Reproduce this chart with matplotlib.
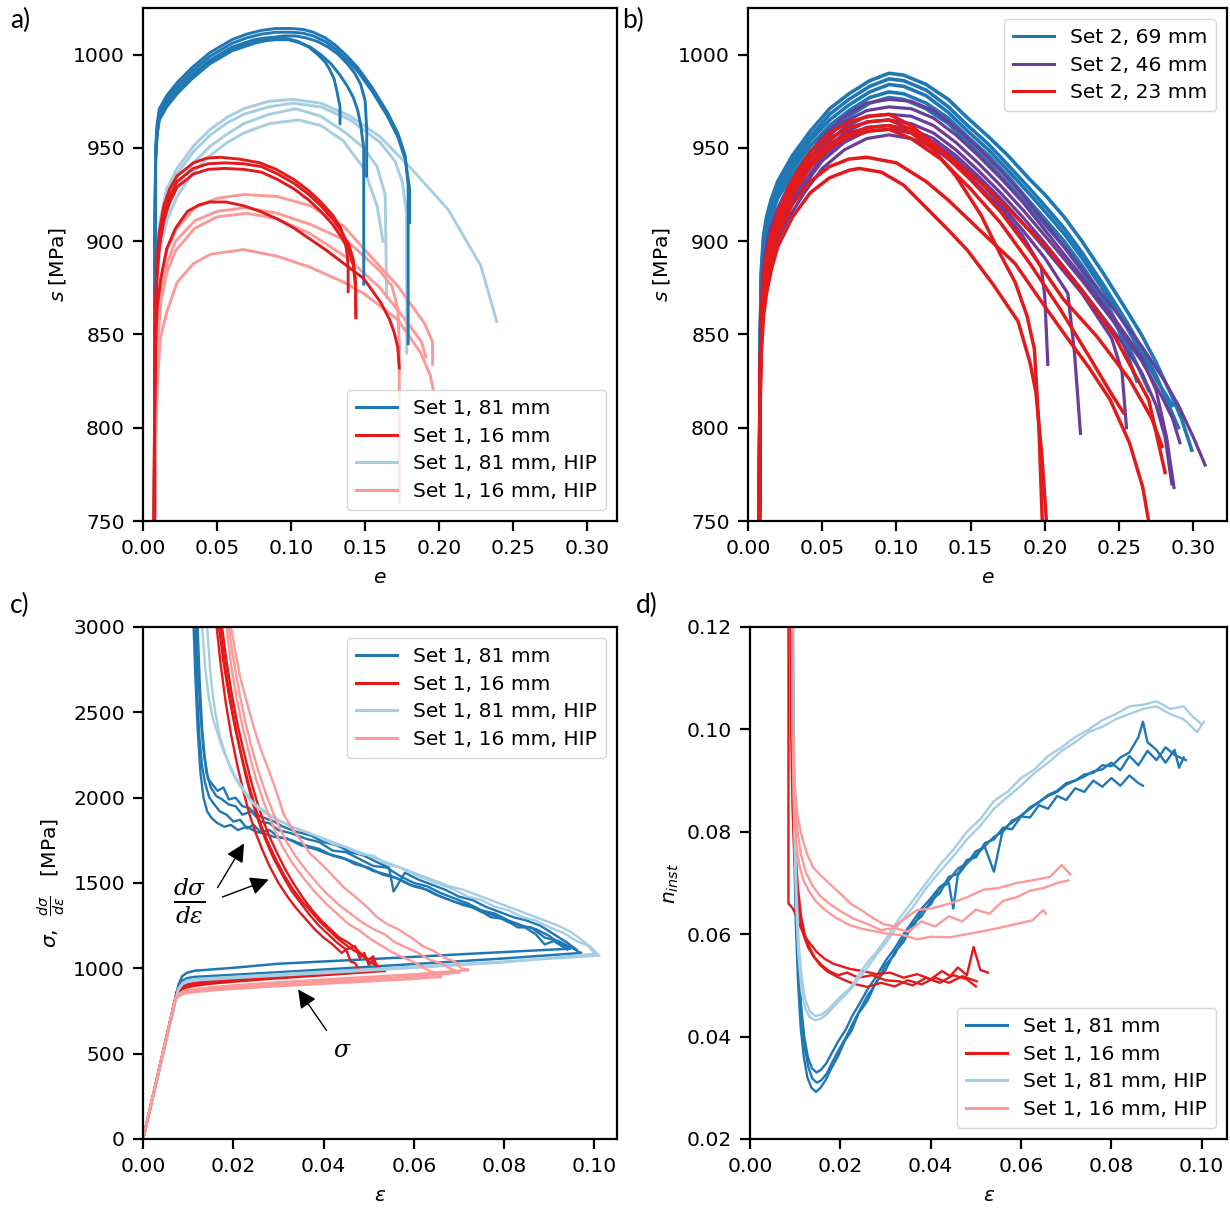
import matplotlib
matplotlib.use('Agg')
from matplotlib import pyplot as plt
from matplotlib.lines import Line2D

plt.rcParams['font.family'] = ['DejaVu Sans']
plt.rcParams['axes.linewidth'] = 1.6
plt.rcParams['xtick.major.width'] = 1.6
plt.rcParams['ytick.major.width'] = 1.6
plt.rcParams['xtick.major.size'] = 7.5
plt.rcParams['ytick.major.size'] = 7.5
plt.rcParams['xtick.major.pad'] = 5.5
plt.rcParams['ytick.major.pad'] = 5.5

DARK_BLUE = '#1f78b4'
RED = '#e31a1c'
LIGHT_BLUE = '#a6cee3'
PINK = '#fb9a99'
PURPLE = '#6a3d9a'

# ---------------- panel a: s vs e, set 1 ----------------
a_blue_e = [
    [0.0075, 0.0080, 0.0085, 0.0095, 0.011, 0.016, 0.023, 0.033, 0.045, 0.06, 0.07, 0.08, 0.09, 0.10, 0.108, 0.115, 0.123, 0.13, 0.138, 0.145, 0.155, 0.165, 0.172, 0.177, 0.179, 0.179],
    [0.0075, 0.0080, 0.0085, 0.0095, 0.011, 0.016, 0.023, 0.033, 0.045, 0.06, 0.07, 0.08, 0.09, 0.10, 0.108, 0.115, 0.123, 0.13, 0.138, 0.145, 0.155, 0.165, 0.172, 0.177, 0.180, 0.180],
    [0.0075, 0.0080, 0.0085, 0.0095, 0.011, 0.016, 0.023, 0.033, 0.045, 0.06, 0.075, 0.085, 0.095, 0.103, 0.11, 0.118, 0.125, 0.132, 0.138, 0.143, 0.147, 0.150, 0.151, 0.151],
    [0.0075, 0.0080, 0.0085, 0.0095, 0.011, 0.016, 0.023, 0.033, 0.045, 0.06, 0.075, 0.083, 0.09, 0.098, 0.105, 0.113, 0.12, 0.127, 0.133, 0.138, 0.142, 0.145, 0.147, 0.149, 0.149],
    [0.0075, 0.0080, 0.0085, 0.0095, 0.011, 0.016, 0.023, 0.033, 0.045, 0.06, 0.075, 0.083, 0.09, 0.098, 0.105, 0.112, 0.118, 0.123, 0.126, 0.129, 0.131, 0.133, 0.133],
]
a_blue_s = [
    [700, 900, 950, 963, 971, 978, 985, 993, 1001, 1008, 1011, 1013, 1014, 1014, 1013.5, 1012, 1009, 1005, 999, 993, 982, 969, 958, 946, 930, 845],
    [700, 900, 948, 961, 969, 976, 983, 991, 999, 1006, 1009, 1011, 1012, 1012, 1011.5, 1010, 1007, 1003, 997, 991, 980, 967, 956, 944, 928, 910],
    [700, 895, 944, 958, 966, 973, 980, 988, 996, 1003, 1007, 1009, 1010, 1010, 1009, 1007, 1004, 1000, 995, 990, 984, 975, 960, 935],
    [700, 895, 943, 957, 965, 972, 979, 987, 995, 1002, 1006, 1007.5, 1008, 1008, 1006.5, 1004, 1000, 995, 989, 983, 977, 970, 962, 950, 877],
    [700, 895, 945, 959, 967, 974, 981, 989, 997, 1004, 1008, 1009, 1009, 1008.5, 1007, 1004, 1000, 996, 992, 987, 980, 972, 963],
]
a_red_e = [
    [0.0072, 0.0078, 0.0085, 0.0095, 0.011, 0.014, 0.018, 0.023, 0.034, 0.043, 0.052, 0.065, 0.079, 0.09, 0.102, 0.112, 0.12, 0.128, 0.1335, 0.1365, 0.138, 0.1385, 0.1385],
    [0.0072, 0.0078, 0.0085, 0.0095, 0.011, 0.014, 0.018, 0.023, 0.034, 0.044, 0.055, 0.068, 0.08, 0.091, 0.102, 0.112, 0.12, 0.128, 0.134, 0.139, 0.142, 0.1435, 0.1437],
    [0.0072, 0.0078, 0.0085, 0.0095, 0.011, 0.014, 0.018, 0.023, 0.034, 0.044, 0.055, 0.068, 0.08, 0.091, 0.102, 0.112, 0.12, 0.128, 0.134, 0.139, 0.142, 0.1435, 0.1437],
    [0.0072, 0.0078, 0.0085, 0.0095, 0.012, 0.016, 0.022, 0.03, 0.038, 0.045, 0.056, 0.068, 0.079, 0.0905, 0.102, 0.113, 0.124, 0.1356, 0.149, 0.1606, 0.1665, 0.1696, 0.172, 0.173],
]
a_red_s = [
    [700, 820, 868, 890, 905, 919, 928, 935, 942, 944.5, 945, 944, 942, 938.5, 933, 927, 921, 914, 907, 900, 892, 885, 873],
    [700, 815, 862, 885, 900, 914, 924, 932, 939, 941.5, 942, 941.5, 940, 936, 931, 925, 919, 912, 905, 898, 890, 878, 859],
    [700, 812, 858, 881, 897, 911, 921, 929, 936, 938.5, 939, 938.5, 937, 933, 928, 922, 916, 909, 902, 895, 887, 875, 860],
    [700, 800, 845, 864, 880, 896, 907, 916, 919.5, 921, 921, 919, 916, 912, 907, 901, 895, 888, 880, 867, 858, 851, 843, 832],
]
a_lblue_e = [
    [0.0075, 0.0080, 0.0090, 0.0117, 0.016, 0.023, 0.034, 0.0455, 0.057, 0.068, 0.085, 0.101, 0.12, 0.14, 0.16, 0.181, 0.206, 0.228, 0.2388],
    [0.0075, 0.0080, 0.0090, 0.0117, 0.016, 0.023, 0.034, 0.0455, 0.057, 0.068, 0.085, 0.101, 0.12, 0.14, 0.16, 0.17, 0.175, 0.178, 0.178],
    [0.0075, 0.0080, 0.0090, 0.0117, 0.016, 0.023, 0.034, 0.0455, 0.057, 0.068, 0.085, 0.103, 0.12, 0.137, 0.149, 0.158, 0.1635, 0.1645],
    [0.0075, 0.0080, 0.0090, 0.0117, 0.016, 0.023, 0.034, 0.0455, 0.057, 0.068, 0.085, 0.105, 0.12, 0.135, 0.149, 0.158, 0.162],
]
a_lblue_s = [
    [700, 855, 895, 912, 928, 939, 951, 960, 966.5, 971, 975, 976, 974, 967, 956, 939, 917, 887, 857],
    [700, 850, 890, 908, 924, 936, 948, 957, 963.5, 968, 972, 974, 972, 965, 953, 943, 932, 915, 840],
    [700, 845, 884, 902, 917, 929, 942, 951, 957.5, 963, 968, 971, 967, 958, 950, 940, 925, 870],
    [700, 840, 878, 896, 911, 924, 937, 946, 953, 958, 963, 965, 962, 954, 939, 919, 900],
]
a_pink_e = [
    [0.0075, 0.0085, 0.0098, 0.012, 0.016, 0.022, 0.035, 0.05, 0.068, 0.0905, 0.113, 0.1356, 0.149, 0.172, 0.19, 0.1955, 0.1955],
    [0.0075, 0.0085, 0.0098, 0.012, 0.016, 0.022, 0.035, 0.05, 0.07, 0.0905, 0.113, 0.138, 0.16, 0.168, 0.172, 0.173, 0.173],
    [0.0075, 0.0085, 0.0098, 0.012, 0.016, 0.022, 0.035, 0.05, 0.07, 0.0905, 0.113, 0.138, 0.16, 0.178, 0.188, 0.191],
    [0.0075, 0.0085, 0.0098, 0.0117, 0.016, 0.023, 0.034, 0.0455, 0.068, 0.0905, 0.113, 0.1356, 0.149, 0.172, 0.1876, 0.194, 0.196],
]
a_pink_s = [
    [700, 820, 858, 880, 895, 906, 918, 923, 925, 924, 919, 908, 896, 876, 856, 846, 834],
    [700, 810, 850, 872, 888, 900, 911, 916, 918, 915, 909, 900, 884, 876, 864, 845, 760],
    [700, 805, 845, 867, 883, 895, 907, 913, 915, 912, 904, 891, 875, 857, 846, 838],
    [700, 790, 825, 848, 862, 878, 888, 893, 895.5, 892, 886, 878, 872, 858, 840, 828, 820],
]

# ---------------- panel b: s vs e, set 2 ----------------
b_blue_e = [
    [0.0075, 0.0082, 0.009, 0.0105, 0.0125, 0.0155, 0.02, 0.03, 0.042, 0.055, 0.068, 0.082, 0.095, 0.105, 0.12, 0.135, 0.148, 0.162, 0.175, 0.19, 0.2, 0.213, 0.225, 0.24, 0.255, 0.265, 0.275, 0.285, 0.292, 0.299],
    [0.0075, 0.0082, 0.009, 0.0105, 0.0125, 0.0155, 0.02, 0.03, 0.042, 0.055, 0.068, 0.082, 0.095, 0.105, 0.12, 0.135, 0.148, 0.162, 0.175, 0.19, 0.2, 0.213, 0.225, 0.24, 0.255, 0.265, 0.275, 0.283, 0.29],
    [0.0075, 0.0082, 0.009, 0.0105, 0.0125, 0.0155, 0.02, 0.03, 0.042, 0.055, 0.068, 0.082, 0.095, 0.105, 0.12, 0.135, 0.148, 0.162, 0.175, 0.19, 0.2, 0.213, 0.225, 0.24, 0.255, 0.265, 0.275, 0.286],
    [0.0075, 0.0082, 0.009, 0.0105, 0.0125, 0.0155, 0.02, 0.03, 0.042, 0.055, 0.068, 0.082, 0.095, 0.105, 0.12, 0.135, 0.148, 0.162, 0.175, 0.19, 0.2, 0.213, 0.225, 0.24, 0.252, 0.262, 0.27],
    [0.0075, 0.0082, 0.009, 0.0105, 0.0125, 0.0155, 0.02, 0.03, 0.042, 0.055, 0.068, 0.082, 0.095, 0.105, 0.12, 0.135, 0.148, 0.162, 0.175, 0.19, 0.2, 0.213, 0.225, 0.24, 0.25, 0.262],
]
b_blue_s = [
    [700, 845, 885, 903, 913, 922, 932, 946, 959, 971, 979, 986, 990, 989, 984, 976, 966, 956, 946, 933, 925, 913, 900, 882, 863, 850, 835, 818, 805, 788],
    [700, 842, 882, 900, 910, 919, 929, 943, 956, 968, 976, 983, 987, 986, 981, 972, 962, 952, 941, 928, 919, 907, 894, 876, 857, 843, 828, 813, 800],
    [700, 840, 880, 898, 908, 917, 927, 941, 954, 965, 973, 980, 984, 983, 978, 969, 959, 949, 938, 925, 916, 904, 891, 873, 854, 840, 826, 812],
    [700, 838, 878, 896, 906, 915, 925, 939, 951, 962, 970, 977, 980, 979, 974, 966, 956, 946, 935, 921, 912, 900, 887, 869, 851, 834, 820],
    [700, 836, 876, 894, 904, 913, 923, 936, 948, 959, 967, 974, 977, 976, 971, 963, 953, 942, 931, 918, 909, 897, 884, 866, 852, 825],
]
b_purple_e = [
    [0.0075, 0.0082, 0.0092, 0.011, 0.014, 0.019, 0.027, 0.038, 0.05, 0.065, 0.08, 0.095, 0.11, 0.125, 0.14, 0.155, 0.17, 0.185, 0.2, 0.225, 0.25, 0.265, 0.28, 0.29, 0.3, 0.308],
    [0.0075, 0.0082, 0.0092, 0.011, 0.014, 0.019, 0.027, 0.038, 0.05, 0.065, 0.08, 0.095, 0.11, 0.125, 0.14, 0.155, 0.17, 0.185, 0.2, 0.225, 0.25, 0.265, 0.275, 0.282, 0.287],
    [0.0075, 0.0082, 0.0092, 0.011, 0.014, 0.019, 0.027, 0.038, 0.05, 0.065, 0.08, 0.095, 0.11, 0.125, 0.14, 0.155, 0.17, 0.185, 0.2, 0.225, 0.25, 0.265, 0.278, 0.286, 0.291],
    [0.0075, 0.0082, 0.0092, 0.011, 0.014, 0.019, 0.027, 0.038, 0.05, 0.065, 0.08, 0.095, 0.11, 0.125, 0.14, 0.155, 0.17, 0.185, 0.2, 0.225, 0.25, 0.265, 0.275, 0.281, 0.2855],
    [0.0075, 0.0082, 0.0092, 0.011, 0.014, 0.019, 0.027, 0.038, 0.05, 0.065, 0.08, 0.095, 0.11, 0.125, 0.14, 0.155, 0.17, 0.185, 0.1976, 0.2, 0.202],
    [0.0075, 0.0082, 0.0092, 0.011, 0.014, 0.019, 0.027, 0.038, 0.05, 0.065, 0.08, 0.095, 0.11, 0.125, 0.14, 0.155, 0.17, 0.185, 0.2, 0.2155, 0.22, 0.224],
    [0.0075, 0.0082, 0.0092, 0.011, 0.014, 0.019, 0.027, 0.038, 0.05, 0.065, 0.08, 0.095, 0.11, 0.125, 0.14, 0.155, 0.17, 0.185, 0.2, 0.225, 0.245, 0.252, 0.255],
]
b_purple_s = [
    [700, 835, 872, 891, 904, 916, 929, 943, 956, 967, 974, 976, 975, 970, 961, 950, 938, 925, 910, 885, 860, 844, 826, 812, 795, 780],
    [700, 832, 869, 888, 901, 913, 926, 940, 953, 964, 970, 972, 971, 966, 957, 946, 934, 921, 906, 881, 855, 838, 820, 795, 768],
    [700, 830, 866, 885, 898, 910, 923, 937, 950, 961, 967, 968, 967, 962, 953, 942, 930, 917, 903, 879, 853, 836, 818, 805, 792],
    [700, 828, 864, 883, 896, 908, 921, 935, 948, 958, 964, 965, 963, 958, 949, 938, 926, 913, 899, 874, 848, 830, 812, 795, 770],
    [700, 822, 856, 874, 887, 899, 912, 926, 939, 949, 955, 957, 955, 950, 941, 930, 918, 903, 886, 870, 834],
    [700, 825, 860, 878, 891, 903, 916, 930, 943, 953, 959, 960, 958, 953, 944, 933, 920, 906, 891, 872, 840, 797],
    [700, 826, 862, 880, 893, 905, 918, 932, 945, 955, 961, 962, 960, 955, 946, 935, 923, 910, 896, 872, 848, 830, 800],
]
b_red_e = [
    [0.0072, 0.008, 0.009, 0.0105, 0.0125, 0.0155, 0.02, 0.03, 0.042, 0.055, 0.068, 0.082, 0.095, 0.11, 0.1345, 0.157, 0.1795, 0.202, 0.2245, 0.247, 0.27, 0.281],
    [0.0072, 0.008, 0.009, 0.0105, 0.0125, 0.0155, 0.02, 0.03, 0.042, 0.055, 0.068, 0.082, 0.095, 0.11, 0.13, 0.15, 0.17, 0.19, 0.2124, 0.235, 0.257, 0.272, 0.279],
    [0.0072, 0.008, 0.009, 0.0105, 0.0125, 0.0155, 0.02, 0.03, 0.042, 0.055, 0.068, 0.08, 0.1, 0.12, 0.135, 0.16, 0.18, 0.2, 0.217, 0.23, 0.244, 0.257, 0.266, 0.271],
    [0.0072, 0.008, 0.009, 0.0105, 0.0125, 0.0155, 0.02, 0.03, 0.042, 0.055, 0.068, 0.075, 0.09, 0.105, 0.12, 0.135, 0.148, 0.165, 0.182, 0.19, 0.194, 0.198, 0.2015],
    [0.0072, 0.008, 0.009, 0.0105, 0.0125, 0.0155, 0.02, 0.03, 0.042, 0.055, 0.068, 0.082, 0.095, 0.11, 0.125, 0.14, 0.157, 0.17, 0.18, 0.188, 0.193, 0.196, 0.1985],
    [0.0072, 0.008, 0.009, 0.0105, 0.0125, 0.0155, 0.02, 0.03, 0.042, 0.055, 0.068, 0.082, 0.095, 0.11, 0.13, 0.15, 0.17, 0.19, 0.21, 0.23, 0.245, 0.253],
]
b_red_s = [
    [700, 820, 860, 880, 893, 903, 915, 933, 948, 958, 964, 967, 968, 962, 946, 931, 914, 896, 874, 849, 815, 776],
    [700, 818, 857, 877, 890, 900, 912, 930, 945, 955, 961, 964, 965, 960, 948, 933, 916, 895, 869, 849, 826, 805, 790],
    [700, 810, 845, 865, 878, 890, 903, 920, 932, 940, 944, 945, 942, 932, 922, 903, 888, 865, 846, 832, 815, 792, 768, 745],
    [700, 805, 840, 860, 872, 884, 897, 913, 926, 934, 938, 939, 937, 930, 918, 906, 895, 877, 857, 835, 819, 785, 745],
    [700, 816, 855, 874, 887, 897, 909, 927, 942, 952, 958, 961, 962, 958, 949, 935, 914, 893, 878, 860, 842, 800, 745],
    [700, 815, 853, 872, 885, 895, 907, 925, 940, 950, 956, 959, 960, 955, 944, 928, 910, 888, 864, 838, 818, 808],
]

# ---------------- panel c: sigma and dsigma/deps vs eps ----------------
c_blue_sig_e = [[0, 0.0078, 0.0087, 0.0098, 0.0115, 0.02, 0.03, 0.052, 0.073, 0.0945],
                [0, 0.0078, 0.0087, 0.0098, 0.0115, 0.02, 0.035, 0.06, 0.08, 0.097]]
c_blue_sig = [[0, 900, 955, 975, 986, 1003, 1027, 1056, 1086, 1115],
              [0, 890, 928, 943, 950, 962, 985, 1025, 1058, 1090]]
c_lblue_sig_e = [[0, 0.0078, 0.0088, 0.010, 0.012, 0.02, 0.04, 0.06, 0.08, 0.101],
                 [0, 0.0078, 0.0088, 0.010, 0.012, 0.02, 0.04, 0.06, 0.08, 0.100]]
c_lblue_sig = [[0, 880, 915, 930, 937, 950, 980, 1010, 1040, 1075],
               [0, 875, 908, 922, 930, 943, 972, 1003, 1035, 1085]]
c_red_sig_e = [[0, 0.0075, 0.0085, 0.0095, 0.011, 0.015, 0.02, 0.03, 0.04, 0.053],
               [0, 0.0075, 0.0085, 0.0095, 0.011, 0.015, 0.02, 0.03, 0.04, 0.048],
               [0, 0.0075, 0.0085, 0.0095, 0.011, 0.015, 0.02, 0.03, 0.04, 0.052],
               [0, 0.0075, 0.0085, 0.0095, 0.011, 0.015, 0.02, 0.03, 0.04, 0.0535]]
c_red_sig = [[0, 860, 885, 897, 906, 920, 932, 952, 970, 990],
             [0, 855, 880, 892, 901, 915, 927, 947, 966, 985],
             [0, 865, 892, 904, 913, 928, 940, 959, 978, 1000],
             [0, 850, 875, 887, 896, 910, 922, 942, 960, 985]]
c_pink_sig_e = [[0, 0.0072, 0.0082, 0.0093, 0.011, 0.015, 0.02, 0.03, 0.045, 0.06, 0.072],
                [0, 0.0072, 0.0082, 0.0093, 0.011, 0.015, 0.02, 0.03, 0.045, 0.06, 0.066],
                [0, 0.0072, 0.0082, 0.0093, 0.011, 0.015, 0.02, 0.03, 0.045, 0.06, 0.070]]
c_pink_sig = [[0, 830, 855, 868, 876, 888, 900, 918, 942, 965, 990],
              [0, 820, 842, 853, 860, 870, 880, 896, 917, 938, 950],
              [0, 825, 848, 860, 868, 880, 890, 907, 930, 952, 975]]

c_blue_rate_e = [
    [0.0118, 0.0122, 0.0127, 0.0133, 0.0140, 0.0150, 0.0162, 0.0175, 0.019, 0.0205, 0.022, 0.024, 0.026, 0.028, 0.030, 0.033, 0.036, 0.039, 0.042, 0.045, 0.048, 0.051, 0.054, 0.057, 0.060, 0.063, 0.066, 0.069, 0.072, 0.075, 0.078, 0.081, 0.084, 0.087, 0.090, 0.092, 0.0945],
    [0.0112, 0.0116, 0.0121, 0.0127, 0.0134, 0.0142, 0.0152, 0.0165, 0.018, 0.0195, 0.021, 0.023, 0.025, 0.027, 0.029, 0.032, 0.035, 0.038, 0.041, 0.044, 0.047, 0.050, 0.053, 0.056, 0.059, 0.062, 0.065, 0.068, 0.071, 0.074, 0.077, 0.080, 0.083, 0.086, 0.089, 0.092, 0.095, 0.097],
    [0.0121, 0.0126, 0.0131, 0.0137, 0.0144, 0.0153, 0.0165, 0.0178, 0.019, 0.0205, 0.022, 0.0235, 0.025, 0.027, 0.029, 0.031, 0.034, 0.037, 0.040, 0.043, 0.046, 0.049, 0.052, 0.0545, 0.0555, 0.058, 0.061, 0.064, 0.067, 0.070, 0.073, 0.076, 0.079, 0.082, 0.085, 0.088, 0.091, 0.094, 0.096],
    [0.0116, 0.012, 0.0125, 0.0131, 0.0138, 0.0147, 0.0158, 0.017, 0.0185, 0.020, 0.0215, 0.023, 0.0245, 0.026, 0.028, 0.030, 0.033, 0.036, 0.039, 0.042, 0.045, 0.048, 0.051, 0.054, 0.057, 0.060, 0.063, 0.066, 0.069, 0.072, 0.075, 0.078, 0.081, 0.084, 0.087, 0.089, 0.091, 0.094],
]
c_blue_rate = [
    [3000, 2750, 2500, 2300, 2150, 2060, 2010, 1990, 1960, 1950, 1900, 1920, 1860, 1850, 1810, 1790, 1760, 1740, 1690, 1680, 1640, 1600, 1590, 1540, 1500, 1480, 1440, 1410, 1380, 1340, 1320, 1280, 1250, 1230, 1190, 1150, 1115],
    [3000, 2700, 2400, 2150, 2000, 1920, 1880, 1850, 1830, 1840, 1810, 1830, 1800, 1790, 1770, 1760, 1720, 1700, 1670, 1650, 1610, 1590, 1550, 1530, 1490, 1470, 1430, 1400, 1370, 1350, 1300, 1290, 1240, 1240, 1180, 1160, 1120, 1090],
    [3000, 2650, 2400, 2230, 2110, 2080, 2040, 2060, 1990, 2000, 1950, 1940, 1900, 1880, 1860, 1830, 1800, 1780, 1740, 1720, 1680, 1660, 1620, 1590, 1450, 1560, 1520, 1490, 1460, 1420, 1400, 1360, 1330, 1300, 1280, 1250, 1200, 1150, 1110],
    [3000, 2600, 2350, 2180, 2080, 2000, 1960, 1920, 1900, 1860, 1870, 1820, 1840, 1800, 1810, 1770, 1750, 1720, 1700, 1660, 1640, 1610, 1570, 1550, 1520, 1480, 1460, 1420, 1390, 1370, 1330, 1310, 1270, 1250, 1200, 1140, 1160, 1110],
]
c_lblue_rate_e = [
    [0.0131, 0.0138, 0.0146, 0.0155, 0.0165, 0.0177, 0.019, 0.0205, 0.022, 0.024, 0.026, 0.028, 0.030, 0.033, 0.036, 0.039, 0.042, 0.045, 0.048, 0.051, 0.054, 0.057, 0.060, 0.063, 0.066, 0.069, 0.072, 0.075, 0.078, 0.081, 0.084, 0.087, 0.090, 0.093, 0.096, 0.099, 0.101],
    [0.0142, 0.015, 0.016, 0.017, 0.0183, 0.0197, 0.0212, 0.023, 0.025, 0.027, 0.029, 0.032, 0.035, 0.038, 0.041, 0.044, 0.047, 0.050, 0.053, 0.056, 0.059, 0.062, 0.065, 0.068, 0.071, 0.074, 0.077, 0.080, 0.083, 0.086, 0.089, 0.092, 0.095, 0.098, 0.100],
]
c_lblue_rate = [
    [3000, 2750, 2580, 2460, 2380, 2280, 2200, 2120, 2060, 1980, 1940, 1900, 1870, 1830, 1800, 1770, 1730, 1710, 1670, 1660, 1610, 1590, 1550, 1520, 1490, 1460, 1420, 1400, 1360, 1340, 1300, 1280, 1240, 1210, 1160, 1130, 1075],
    [3000, 2700, 2500, 2360, 2250, 2150, 2080, 2010, 1950, 1910, 1880, 1840, 1810, 1780, 1750, 1720, 1690, 1660, 1630, 1600, 1570, 1540, 1510, 1480, 1460, 1430, 1400, 1370, 1340, 1310, 1280, 1250, 1210, 1150, 1090],
]
c_red_rate_e = [
    [0.0168, 0.0178, 0.019, 0.0203, 0.0217, 0.023, 0.0245, 0.026, 0.0275, 0.029, 0.031, 0.033, 0.035, 0.037, 0.039, 0.041, 0.043, 0.045, 0.047, 0.048, 0.049, 0.050, 0.051, 0.052, 0.053],
    [0.0163, 0.0172, 0.0183, 0.0195, 0.0208, 0.0222, 0.0236, 0.025, 0.0265, 0.028, 0.030, 0.032, 0.034, 0.036, 0.038, 0.040, 0.042, 0.044, 0.045, 0.046, 0.047, 0.048],
    [0.0175, 0.0185, 0.0197, 0.021, 0.0224, 0.0238, 0.0252, 0.0267, 0.0282, 0.0298, 0.0315, 0.0335, 0.0355, 0.0375, 0.0395, 0.0415, 0.0435, 0.0455, 0.047, 0.0485, 0.050, 0.051, 0.052],
    [0.0171, 0.0181, 0.0193, 0.0206, 0.022, 0.0234, 0.0249, 0.0264, 0.028, 0.0296, 0.0314, 0.0333, 0.0353, 0.0373, 0.0393, 0.0413, 0.0433, 0.0453, 0.047, 0.0485, 0.050, 0.0515, 0.0535],
]
c_red_rate = [
    [3000, 2800, 2600, 2420, 2250, 2100, 1950, 1830, 1730, 1640, 1540, 1450, 1380, 1310, 1250, 1200, 1150, 1110, 1130, 1060, 1090, 1020, 1050, 1000, 990],
    [3000, 2780, 2560, 2370, 2200, 2040, 1900, 1790, 1690, 1600, 1500, 1420, 1350, 1290, 1230, 1180, 1140, 1090, 1110, 1040, 1030, 985],
    [3000, 2800, 2600, 2420, 2260, 2110, 1980, 1860, 1760, 1670, 1580, 1490, 1410, 1340, 1280, 1230, 1180, 1150, 1120, 1080, 1050, 1070, 1000],
    [3000, 2790, 2590, 2400, 2230, 2080, 1940, 1820, 1720, 1630, 1540, 1460, 1390, 1330, 1270, 1220, 1170, 1130, 1100, 1080, 1040, 1020, 985],
]
c_pink_rate_e = [
    [0.0195, 0.0205, 0.0215, 0.023, 0.0245, 0.026, 0.028, 0.030, 0.0311, 0.033, 0.035, 0.037, 0.040, 0.0425, 0.0444, 0.047, 0.050, 0.0518, 0.054, 0.0565, 0.0592, 0.062, 0.0645, 0.0665, 0.069, 0.0705, 0.072],
    [0.0185, 0.0195, 0.0207, 0.022, 0.0235, 0.025, 0.0268, 0.0287, 0.0307, 0.033, 0.0355, 0.038, 0.0405, 0.043, 0.0455, 0.048, 0.0505, 0.053, 0.0555, 0.058, 0.0605, 0.063, 0.065, 0.066],
    [0.0190, 0.0201, 0.0213, 0.0226, 0.024, 0.0256, 0.0274, 0.0293, 0.0314, 0.0337, 0.036, 0.0385, 0.041, 0.0435, 0.046, 0.0485, 0.051, 0.0535, 0.056, 0.0585, 0.061, 0.0635, 0.066, 0.068, 0.070],
]
c_pink_rate = [
    [3000, 2850, 2707, 2560, 2414, 2290, 2150, 2000, 1906, 1820, 1750, 1672, 1600, 1530, 1476, 1420, 1350, 1301, 1260, 1230, 1184, 1130, 1100, 1066, 1040, 1000, 993],
    [3000, 2780, 2590, 2420, 2260, 2110, 1970, 1840, 1720, 1620, 1530, 1450, 1380, 1320, 1260, 1220, 1170, 1130, 1090, 1060, 1030, 990, 970, 950],
    [3000, 2800, 2620, 2450, 2300, 2150, 2010, 1880, 1760, 1660, 1580, 1500, 1430, 1370, 1320, 1270, 1230, 1200, 1150, 1120, 1090, 1050, 1030, 1000, 975],
]

# ---------------- panel d: n_inst vs eps ----------------
d_blue_e = [
    [0.0093, 0.0094, 0.0097, 0.0101, 0.0106, 0.0112, 0.0119, 0.0127, 0.0136, 0.0146, 0.0156, 0.0168, 0.018, 0.0195, 0.021, 0.0225, 0.024, 0.026, 0.028, 0.030, 0.032, 0.034, 0.036, 0.038, 0.040, 0.042, 0.044, 0.046, 0.048, 0.050, 0.052, 0.054, 0.056, 0.058, 0.060, 0.062, 0.064, 0.066, 0.068, 0.070, 0.072, 0.074, 0.076, 0.078, 0.080, 0.082, 0.084, 0.086, 0.087],
    [0.0095, 0.0096, 0.0099, 0.0103, 0.0108, 0.0114, 0.0121, 0.0129, 0.0138, 0.0148, 0.0158, 0.017, 0.0182, 0.0197, 0.0212, 0.0227, 0.0242, 0.026, 0.028, 0.030, 0.032, 0.034, 0.036, 0.038, 0.040, 0.042, 0.044, 0.045, 0.046, 0.048, 0.050, 0.052, 0.054, 0.056, 0.058, 0.060, 0.062, 0.064, 0.066, 0.068, 0.070, 0.072, 0.074, 0.076, 0.078, 0.080, 0.082, 0.084, 0.086, 0.087, 0.088, 0.090, 0.092, 0.094, 0.095, 0.096],
    [0.0094, 0.0095, 0.0098, 0.0102, 0.0107, 0.0113, 0.012, 0.0128, 0.0137, 0.0147, 0.0157, 0.0169, 0.0181, 0.0196, 0.0211, 0.0226, 0.0241, 0.026, 0.028, 0.030, 0.032, 0.034, 0.036, 0.038, 0.040, 0.042, 0.044, 0.046, 0.048, 0.050, 0.052, 0.054, 0.056, 0.058, 0.060, 0.062, 0.064, 0.066, 0.068, 0.070, 0.072, 0.074, 0.076, 0.078, 0.080, 0.082, 0.084, 0.086, 0.088, 0.090, 0.092, 0.094, 0.0965],
]
d_blue_n = [
    [0.125, 0.100, 0.080, 0.063, 0.051, 0.042, 0.036, 0.032, 0.0300, 0.0292, 0.0300, 0.0316, 0.0338, 0.0362, 0.0392, 0.0412, 0.0445, 0.0470, 0.0508, 0.0530, 0.0565, 0.0585, 0.0620, 0.0635, 0.0665, 0.0680, 0.0712, 0.0718, 0.0745, 0.0750, 0.0778, 0.0785, 0.0808, 0.0805, 0.0830, 0.0828, 0.0852, 0.0845, 0.0870, 0.0862, 0.0885, 0.0878, 0.0900, 0.0888, 0.0905, 0.0890, 0.0910, 0.0895, 0.0890],
    [0.125, 0.100, 0.081, 0.065, 0.053, 0.044, 0.038, 0.0340, 0.0318, 0.0310, 0.0315, 0.0328, 0.0350, 0.0375, 0.0398, 0.0425, 0.0450, 0.0480, 0.0505, 0.0540, 0.0560, 0.0595, 0.0612, 0.0645, 0.0658, 0.0690, 0.0700, 0.0650, 0.0715, 0.0738, 0.0755, 0.0772, 0.0790, 0.0800, 0.0822, 0.0830, 0.0848, 0.0858, 0.0872, 0.0880, 0.0895, 0.0900, 0.0912, 0.0915, 0.0930, 0.0928, 0.0945, 0.0955, 0.0985, 0.1015, 0.0975, 0.0960, 0.0935, 0.0960, 0.0925, 0.0945],
    [0.125, 0.100, 0.082, 0.066, 0.055, 0.046, 0.040, 0.0360, 0.0338, 0.0330, 0.0335, 0.0348, 0.0368, 0.0392, 0.0412, 0.0440, 0.0462, 0.0492, 0.0518, 0.0548, 0.0572, 0.0600, 0.0625, 0.0650, 0.0670, 0.0692, 0.0705, 0.0728, 0.0738, 0.0762, 0.0770, 0.0722, 0.0805, 0.0818, 0.0832, 0.0845, 0.0858, 0.0870, 0.0878, 0.0892, 0.0900, 0.0908, 0.0918, 0.0922, 0.0935, 0.0920, 0.0948, 0.0930, 0.0958, 0.0940, 0.0965, 0.0950, 0.0940],
]
d_lblue_e = [
    [0.0095, 0.0096, 0.0099, 0.0103, 0.0108, 0.0115, 0.0123, 0.0133, 0.0145, 0.0158, 0.0172, 0.0186, 0.020, 0.0222, 0.024, 0.026, 0.028, 0.030, 0.033, 0.036, 0.039, 0.042, 0.045, 0.048, 0.051, 0.054, 0.057, 0.060, 0.063, 0.066, 0.069, 0.072, 0.075, 0.078, 0.081, 0.084, 0.087, 0.090, 0.093, 0.096, 0.098, 0.100],
    [0.0094, 0.0095, 0.0098, 0.0102, 0.0107, 0.0114, 0.0122, 0.0132, 0.0144, 0.0157, 0.0171, 0.0185, 0.020, 0.022, 0.024, 0.026, 0.028, 0.030, 0.033, 0.036, 0.039, 0.042, 0.045, 0.048, 0.051, 0.054, 0.057, 0.060, 0.063, 0.066, 0.069, 0.072, 0.075, 0.078, 0.081, 0.084, 0.087, 0.090, 0.093, 0.096, 0.099, 0.1005],
]
d_lblue_n = [
    [0.125, 0.100, 0.082, 0.068, 0.058, 0.051, 0.047, 0.0448, 0.0440, 0.0443, 0.0452, 0.0465, 0.0478, 0.0495, 0.0520, 0.0545, 0.0565, 0.0590, 0.0630, 0.0665, 0.0700, 0.0735, 0.0765, 0.0800, 0.0825, 0.0860, 0.0878, 0.0905, 0.0922, 0.0948, 0.0965, 0.0985, 0.1000, 0.1018, 0.1030, 0.1045, 0.1048, 0.1055, 0.1040, 0.1045, 0.1025, 0.1010],
    [0.125, 0.100, 0.080, 0.066, 0.056, 0.049, 0.0455, 0.0438, 0.0432, 0.0435, 0.0445, 0.0458, 0.0472, 0.0490, 0.0512, 0.0535, 0.0560, 0.0582, 0.0620, 0.0652, 0.0690, 0.0722, 0.0752, 0.0785, 0.0812, 0.0845, 0.0868, 0.0890, 0.0915, 0.0935, 0.0958, 0.0975, 0.0995, 0.1005, 0.1020, 0.1030, 0.1040, 0.1045, 0.1030, 0.1020, 0.0995, 0.1015],
]
d_red_e = [
    [0.0085, 0.0085, 0.0095, 0.0100, 0.0105, 0.0111, 0.012, 0.013, 0.0148, 0.0165, 0.0185, 0.020, 0.0222, 0.025, 0.028, 0.031, 0.034, 0.037, 0.040, 0.0425, 0.0443, 0.046, 0.048, 0.0495, 0.051, 0.0527],
    [0.0090, 0.0091, 0.0094, 0.0098, 0.0104, 0.0111, 0.0118, 0.0128, 0.014, 0.0155, 0.017, 0.019, 0.021, 0.023, 0.0259, 0.029, 0.032, 0.035, 0.038, 0.041, 0.044, 0.047, 0.0502],
    [0.0092, 0.0093, 0.0096, 0.0100, 0.0106, 0.0113, 0.0121, 0.0131, 0.0143, 0.0158, 0.0175, 0.0195, 0.0215, 0.024, 0.027, 0.030, 0.033, 0.036, 0.039, 0.042, 0.045, 0.048, 0.050],
]
d_red_n = [
    [0.125, 0.0660, 0.0650, 0.0640, 0.0628, 0.0615, 0.0598, 0.0585, 0.0565, 0.0552, 0.0542, 0.0538, 0.0532, 0.0528, 0.0522, 0.0525, 0.0515, 0.0522, 0.0512, 0.0528, 0.0518, 0.0535, 0.0520, 0.0575, 0.0530, 0.0525],
    [0.125, 0.100, 0.085, 0.075, 0.068, 0.0628, 0.0600, 0.0575, 0.0557, 0.0540, 0.0528, 0.0518, 0.0510, 0.0503, 0.0497, 0.0505, 0.0498, 0.0510, 0.0502, 0.0515, 0.0505, 0.0518, 0.0508],
    [0.125, 0.100, 0.086, 0.077, 0.069, 0.0635, 0.0600, 0.0575, 0.0555, 0.0540, 0.0528, 0.0520, 0.0525, 0.0515, 0.0520, 0.0510, 0.0508, 0.0500, 0.0515, 0.0505, 0.0520, 0.0512, 0.0498],
]
d_pink_e = [
    [0.0094, 0.0095, 0.0098, 0.0104, 0.0112, 0.0126, 0.014, 0.016, 0.0184, 0.0205, 0.0222, 0.025, 0.0275, 0.0295, 0.032, 0.035, 0.037, 0.040, 0.0443, 0.048, 0.0517, 0.055, 0.059, 0.0625, 0.0664, 0.069, 0.0709],
    [0.0093, 0.0094, 0.0097, 0.0102, 0.0109, 0.0118, 0.013, 0.0145, 0.0165, 0.019, 0.022, 0.025, 0.028, 0.031, 0.034, 0.037, 0.040, 0.0443, 0.048, 0.0517, 0.055, 0.059, 0.0625, 0.0649, 0.0655],
    [0.0094, 0.0095, 0.0099, 0.0105, 0.0113, 0.0124, 0.0138, 0.0155, 0.0175, 0.020, 0.023, 0.026, 0.029, 0.032, 0.035, 0.038, 0.041, 0.044, 0.047, 0.050, 0.053, 0.056, 0.059, 0.062, 0.065, 0.068, 0.0705],
]
d_pink_n = [
    [0.125, 0.100, 0.090, 0.084, 0.080, 0.0757, 0.0730, 0.0712, 0.0692, 0.0675, 0.0660, 0.0645, 0.0630, 0.0620, 0.0615, 0.0635, 0.0647, 0.0650, 0.0660, 0.0672, 0.0687, 0.0690, 0.0700, 0.0705, 0.0712, 0.0735, 0.0717],
    [0.125, 0.100, 0.086, 0.078, 0.0735, 0.0705, 0.0685, 0.0665, 0.0648, 0.0632, 0.0618, 0.0610, 0.0605, 0.0600, 0.0598, 0.0590, 0.0595, 0.0594, 0.0600, 0.0606, 0.0612, 0.0620, 0.0627, 0.0647, 0.0640],
    [0.125, 0.100, 0.087, 0.080, 0.0755, 0.0720, 0.0695, 0.0675, 0.0660, 0.0645, 0.0630, 0.0620, 0.0608, 0.0612, 0.0605, 0.0625, 0.0615, 0.0635, 0.0625, 0.0648, 0.0640, 0.0665, 0.0672, 0.0685, 0.0690, 0.0700, 0.0705],
]

SET1_LABELS = ['Set 1, 81 mm', 'Set 1, 16 mm', 'Set 1, 81 mm, HIP', 'Set 1, 16 mm, HIP']
SET1_COLORS = [DARK_BLUE, RED, LIGHT_BLUE, PINK]
SET2_LABELS = ['Set 2, 69 mm', 'Set 2, 46 mm', 'Set 2, 23 mm']
SET2_COLORS = [DARK_BLUE, PURPLE, RED]

TICK_FS = 14.6
LEG_FS = 14.6


def draw_group(ax, xs, ys, color, lw):
    for x, y in zip(xs, ys):
        ax.plot(x, y, color=color, lw=lw, solid_joinstyle='round')


def add_legend(ax, labels, colors, loc):
    handles = [Line2D([], [], color=c, lw=2.2) for c in colors]
    ax.legend(handles, labels, loc=loc, fontsize=LEG_FS, labelspacing=0.42,
              handlelength=2.0, borderpad=0.45, borderaxespad=0.55)


fig = plt.figure(figsize=(12.3, 12.09), dpi=100)
ax_a = fig.add_axes([0.1163, 0.569, 0.3853, 0.4244])
ax_b = fig.add_axes([0.6081, 0.569, 0.3898, 0.4244])
ax_c = fig.add_axes([0.1163, 0.0579, 0.3853, 0.4235])
ax_d = fig.add_axes([0.6098, 0.0579, 0.3881, 0.4235])

# panel a
draw_group(ax_a, a_lblue_e, a_lblue_s, LIGHT_BLUE, 2.1)
draw_group(ax_a, a_pink_e, a_pink_s, PINK, 2.1)
draw_group(ax_a, a_blue_e, a_blue_s, DARK_BLUE, 2.1)
draw_group(ax_a, a_red_e, a_red_s, RED, 2.1)
ax_a.set_xlim(0, 0.32)
ax_a.set_ylim(750, 1025)
ax_a.set_xticks([0, 0.05, 0.10, 0.15, 0.20, 0.25, 0.30])
ax_a.set_yticks([750, 800, 850, 900, 950, 1000])
ax_a.set_xlabel('$e$', fontsize=TICK_FS, labelpad=7)
ax_a.set_ylabel('$s$ [MPa]', fontsize=TICK_FS)
add_legend(ax_a, SET1_LABELS, SET1_COLORS, 'lower right')

# panel b
draw_group(ax_b, b_blue_e, b_blue_s, DARK_BLUE, 2.6)
draw_group(ax_b, b_purple_e, b_purple_s, PURPLE, 2.3)
draw_group(ax_b, b_red_e, b_red_s, RED, 2.5)
ax_b.set_xlim(0, 0.323)
ax_b.set_ylim(750, 1025)
ax_b.set_xticks([0, 0.05, 0.10, 0.15, 0.20, 0.25, 0.30])
ax_b.set_yticks([750, 800, 850, 900, 950, 1000])
ax_b.set_xlabel('$e$', fontsize=TICK_FS, labelpad=7)
ax_b.set_ylabel('$s$ [MPa]', fontsize=TICK_FS)
add_legend(ax_b, SET2_LABELS, SET2_COLORS, 'upper right')

# panel c
draw_group(ax_c, c_blue_rate_e, c_blue_rate, DARK_BLUE, 1.7)
draw_group(ax_c, c_blue_sig_e, c_blue_sig, DARK_BLUE, 1.8)
draw_group(ax_c, c_red_rate_e, c_red_rate, RED, 1.7)
draw_group(ax_c, c_red_sig_e, c_red_sig, RED, 1.8)
draw_group(ax_c, c_lblue_rate_e, c_lblue_rate, LIGHT_BLUE, 1.7)
draw_group(ax_c, c_lblue_sig_e, c_lblue_sig, LIGHT_BLUE, 1.8)
draw_group(ax_c, c_pink_rate_e, c_pink_rate, PINK, 1.7)
draw_group(ax_c, c_pink_sig_e, c_pink_sig, PINK, 1.8)
ax_c.set_xlim(0, 0.105)
ax_c.set_ylim(0, 3000)
ax_c.set_xticks([0, 0.02, 0.04, 0.06, 0.08, 0.10])
ax_c.set_yticks([0, 500, 1000, 1500, 2000, 2500, 3000])
ax_c.set_xlabel(r'$\varepsilon$', fontsize=TICK_FS, labelpad=7)
ax_c.set_ylabel(r'$\sigma$,  $\frac{d\sigma}{d\varepsilon}$   [MPa]', fontsize=TICK_FS)
add_legend(ax_c, SET1_LABELS, SET1_COLORS, 'upper right')

arrow_kw = dict(arrowstyle='-|>', color='black', lw=1.0, mutation_scale=28)
ax_c.annotate('', xy=(0.0227, 1746), xytext=(0.0162, 1459), arrowprops=arrow_kw)
ax_c.annotate('', xy=(0.0284, 1526), xytext=(0.0170, 1412), arrowprops=arrow_kw)
ax_c.annotate('', xy=(0.0340, 890), xytext=(0.0410, 623), arrowprops=arrow_kw)
ax_c.text(0.0104, 1390, r'$\frac{d\sigma}{d\varepsilon}$', fontsize=24,
          ha='center', va='center', math_fontfamily='dejavuserif')
ax_c.text(0.0442, 522, r'$\sigma$', fontsize=17, ha='center', va='center',
          math_fontfamily='dejavuserif')

# panel d
draw_group(ax_d, d_blue_e, d_blue_n, DARK_BLUE, 1.7)
draw_group(ax_d, d_red_e, d_red_n, RED, 1.7)
draw_group(ax_d, d_lblue_e, d_lblue_n, LIGHT_BLUE, 1.7)
draw_group(ax_d, d_pink_e, d_pink_n, PINK, 1.7)
ax_d.set_xlim(0, 0.1057)
ax_d.set_ylim(0.02, 0.12)
ax_d.set_xticks([0, 0.02, 0.04, 0.06, 0.08, 0.10])
ax_d.set_yticks([0.02, 0.04, 0.06, 0.08, 0.10, 0.12])
ax_d.set_xlabel(r'$\varepsilon$', fontsize=TICK_FS, labelpad=7)
ax_d.set_ylabel(r'$n_{inst}$', fontsize=TICK_FS)
add_legend(ax_d, SET1_LABELS, SET1_COLORS, 'lower right')

for ax in [ax_a, ax_b, ax_c, ax_d]:
    ax.tick_params(labelsize=TICK_FS)
    ax.xaxis.set_major_formatter(matplotlib.ticker.FormatStrFormatter('%.2f'))
ax_d.yaxis.set_major_formatter(matplotlib.ticker.FormatStrFormatter('%.2f'))

for txt, x, y in [('a)', 0.008, 0.983), ('b)', 0.506, 0.983), ('c)', 0.008, 0.499), ('d)', 0.517, 0.499)]:
    fig.text(x, y, txt, fontsize=19, family='Lato', ha='left', va='center')

fig.savefig('out.png', dpi=100)
print('Done!')
